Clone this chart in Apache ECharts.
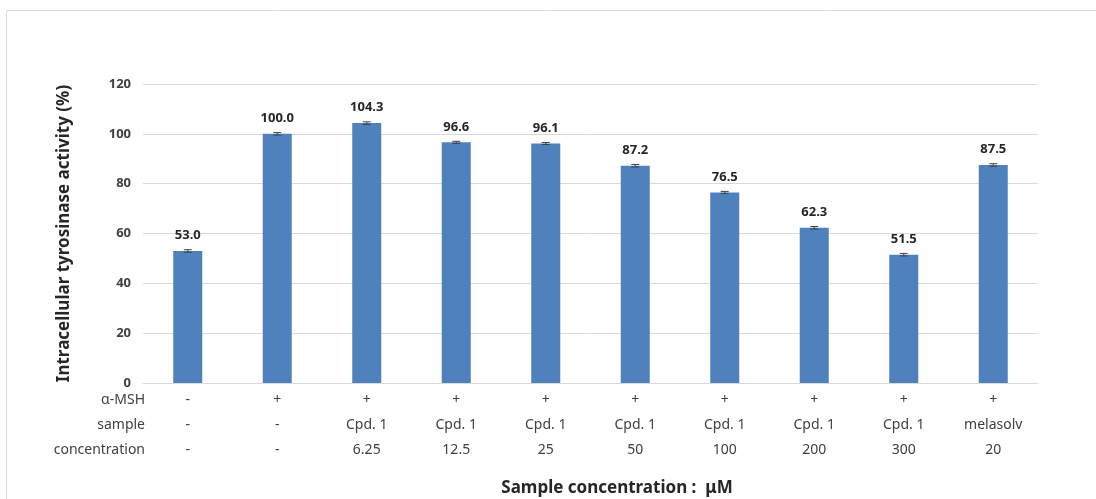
<!DOCTYPE html>
<html>
<head>
<meta charset="utf-8">
<script src="https://cdn.jsdelivr.net/npm/echarts@6/dist/echarts.min.js"></script>
<style>
  html, body { margin: 0; padding: 0; background: #ffffff; }
  #chart { width: 1096px; height: 499px; }
</style>
</head>
<body>
<div id="chart"></div>
<script>
// Treatment groups and measured tyrosinase activity (% of α-MSH control)
const groupIds = ['g1', 'g2', 'g3', 'g4', 'g5', 'g6', 'g7', 'g8', 'g9', 'g10'];
const mshRow = ['-', '+', '+', '+', '+', '+', '+', '+', '+', '+'];
const sampleRow = ['-', '-', 'Cpd. 1', 'Cpd. 1', 'Cpd. 1', 'Cpd. 1', 'Cpd. 1', 'Cpd. 1', 'Cpd. 1', 'melasolv'];
const concRow = ['-', '-', '6.25', '12.5', '25', '50', '100', '200', '300', '20'];
const rowHeaders = ['α-MSH', 'sample', 'concentration'];
const activity = [53.0, 100.0, 104.3, 96.6, 96.1, 87.2, 76.5, 62.3, 51.5, 87.5];
const errors = [0.5, 0.5, 0.5, 0.4, 0.4, 0.5, 0.4, 0.5, 0.5, 0.5];
const yTicks = [0, 20, 40, 60, 80, 100, 120];

const FONT = '"Noto Sans", "Open Sans", sans-serif';
const chart = echarts.init(document.getElementById('chart'));

const gridLeft = 143, gridTop = 84, gridBottomY = 383;
const rowY = [400, 425, 450];

// Row captions to the left of the category table
const headerTexts = rowHeaders.map((t, i) => ({
  type: 'text',
  style: {
    x: 145, y: rowY[i],
    text: t, font: '14px ' + FONT, fill: '#404040',
    textAlign: 'right', textVerticalAlign: 'middle'
  }
}));

chart.setOption({
  backgroundColor: '#ffffff',
  animation: false,
  grid: { left: gridLeft, right: 58, top: gridTop, bottom: 499 - gridBottomY },
  xAxis: {
    type: 'category',
    data: groupIds,
    axisLine: { lineStyle: { color: '#d9d9d9' } },
    axisTick: { show: false },
    axisLabel: {
      interval: 0,
      margin: 5,
      fontFamily: FONT,
      fontSize: 14,
      color: '#404040',
      lineHeight: 25,
      formatter: (v, i) => [mshRow[i], sampleRow[i], concRow[i]].join('\n')
    }
  },
  yAxis: {
    type: 'value',
    min: yTicks[0],
    max: yTicks[yTicks.length - 1],
    interval: yTicks[1] - yTicks[0],
    name: 'Intracellular tyrosinase activity (%)',
    nameLocation: 'middle',
    nameGap: 70,
    nameTextStyle: { fontFamily: FONT, fontSize: 17, fontWeight: 'bold', color: '#262626' },
    axisLine: { show: false },
    axisTick: { show: false },
    splitLine: { lineStyle: { color: '#d9d9d9' } },
    axisLabel: { margin: 12, fontFamily: FONT, fontSize: 13, fontWeight: 'bold', color: '#404040' }
  },
  series: [
    {
      type: 'bar',
      data: activity,
      barWidth: 29,
      itemStyle: { color: '#4f81bd' },
      label: {
        show: true,
        position: 'top',
        distance: 9,
        fontFamily: FONT,
        fontSize: 13,
        fontWeight: 'bold',
        color: '#262626',
        formatter: p => p.value.toFixed(1)
      },
      z: 2
    },
    {
      type: 'custom',
      z: 3,
      data: activity.map((v, i) => [i, v - errors[i], v + errors[i]]),
      renderItem: (params, api) => {
        const lo = api.coord([api.value(0), api.value(1)]);
        const hi = api.coord([api.value(0), api.value(2)]);
        const hw = 4;
        const st = { stroke: '#404040', lineWidth: 1 };
        return {
          type: 'group',
          children: [
            { type: 'line', shape: { x1: lo[0], y1: lo[1], x2: hi[0], y2: hi[1] }, style: st },
            { type: 'line', shape: { x1: lo[0] - hw, y1: lo[1], x2: lo[0] + hw, y2: lo[1] }, style: st },
            { type: 'line', shape: { x1: hi[0] - hw, y1: hi[1], x2: hi[0] + hw, y2: hi[1] }, style: st }
          ]
        };
      }
    }
  ],
  graphic: [
    {
      type: 'rect',
      shape: { x: 6.5, y: 10.5, width: 1200, height: 600 },
      style: { fill: 'none', stroke: '#d9d9d9', lineWidth: 1 },
      silent: true
    },
    ...headerTexts,
    {
      type: 'text',
      style: {
        x: 617, y: 488,
        text: 'Sample concentration :  μM',
        font: 'bold 17px ' + FONT,
        fill: '#262626',
        textAlign: 'center',
        textVerticalAlign: 'middle'
      }
    }
  ]
});
</script>
</body>
</html>
